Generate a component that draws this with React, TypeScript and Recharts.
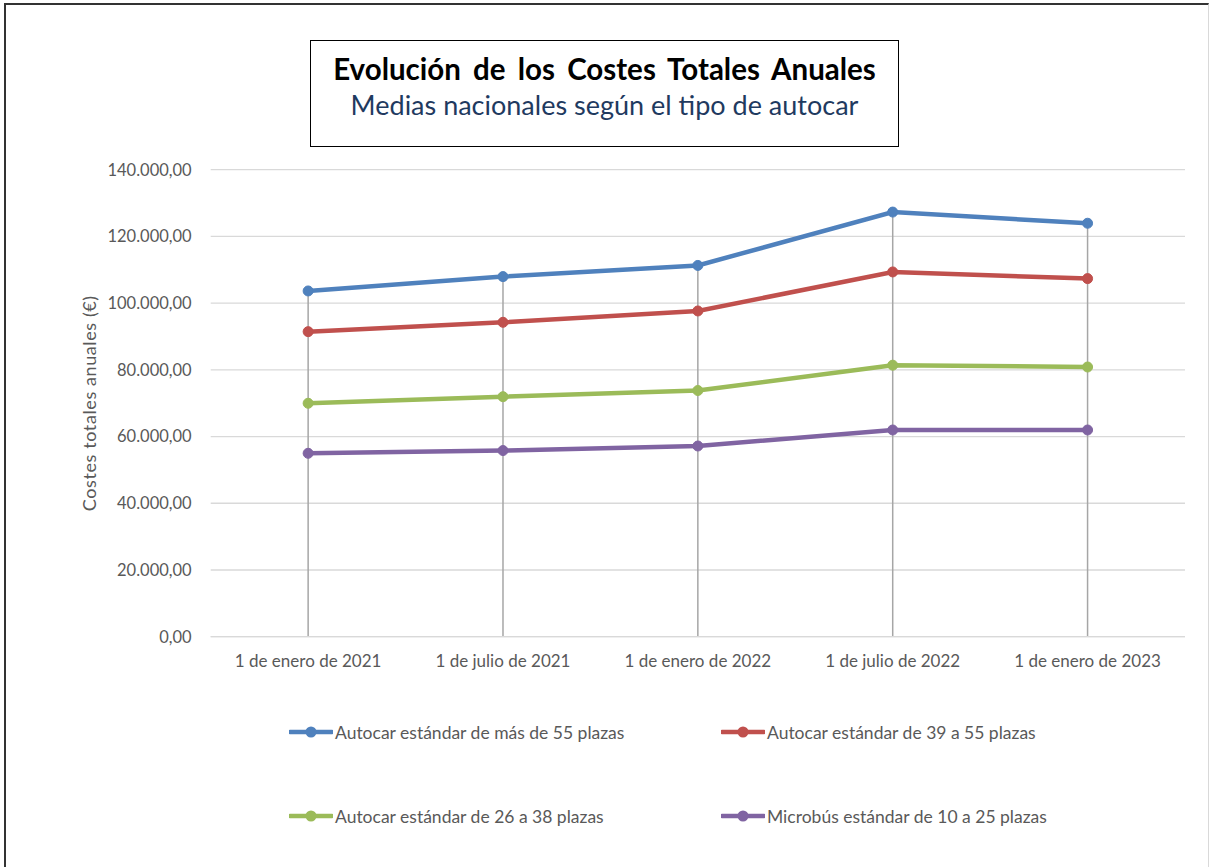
import React from "react";
import { LineChart, Line, XAxis, YAxis, CartesianGrid, ReferenceLine } from "recharts";

const categories = [
  "1 de enero de 2021",
  "1 de julio de 2021",
  "1 de enero de 2022",
  "1 de julio de 2022",
  "1 de enero de 2023",
];
const mas55 = [103650, 107950, 111300, 127300, 123950];
const de39a55 = [91450, 94250, 97650, 109350, 107350];
const de26a38 = [69980, 71950, 73800, 81400, 80850];
const micro10a25 = [54980, 55800, 57170, 61970, 61970];
const yTicks = [0, 20000, 40000, 60000, 80000, 100000, 120000, 140000];

const seriesDefs = [
  { key: "s1", name: "Autocar estándar de más de 55 plazas", color: "#4f81bd", values: mas55 },
  { key: "s2", name: "Autocar estándar de 39 a 55 plazas", color: "#c0504d", values: de39a55 },
  { key: "s3", name: "Autocar estándar de 26 a 38 plazas", color: "#9bbb59", values: de26a38 },
  { key: "s4", name: "Microbús estándar de 10 a 25 plazas", color: "#8064a2", values: micro10a25 },
];

const data = categories.map((c, i) => {
  const row: any = { cat: c };
  seriesDefs.forEach((s) => (row[s.key] = s.values[i]));
  row.max = Math.max(...seriesDefs.map((s) => s.values[i]));
  return row;
});

const fmtTick = (v: number) => {
  const s = Math.round(v).toString();
  const withDots = s.replace(/\B(?=(\d{3})+(?!\d))/g, ".");
  return withDots + ",00";
};

const FONT = "Lato, 'Open Sans', sans-serif";
const TEXT = "#595959";

function LegendItem({ name, color }: { name: string; color: string }) {
  return (
    <div style={{ display: "flex", alignItems: "center", height: 22 }}>
      <svg width={44} height={14} style={{ marginRight: 2 }}>
        <line x1={1} y1={7} x2={43} y2={7} stroke={color} strokeWidth={4.5} strokeLinecap="round" />
        <circle cx={22} cy={7} r={5.5} fill={color} />
      </svg>
      <span style={{ fontFamily: FONT, fontSize: 17.5, color: TEXT, whiteSpace: "nowrap" }}>{name}</span>
    </div>
  );
}

export default function App() {
  const plotLeft = 210.7;
  const plotTop = 169.7;
  const plotRight = 1185;
  const plotBottom = 636.7;
  const yAxisW = 120;
  const xAxisH = 30;
  const halfBand = (plotRight - plotLeft) / categories.length / 2;
  return (
    <div style={{ position: "absolute", left: 0, top: 0, width: 1211, height: 867, background: "#fff", overflow: "hidden" }}>
      <div
        style={{
          position: "absolute",
          left: 4,
          top: 3,
          width: 1205,
          height: 880,
          borderLeft: "2px solid #333",
          borderTop: "2px solid #333",
          borderRight: "1px solid #d9d9d9",
          boxSizing: "border-box",
        }}
      />
      <LineChart
        width={1211}
        height={867}
        data={data}
        margin={{
          top: plotTop,
          right: 1211 - plotRight,
          left: plotLeft - yAxisW,
          bottom: 867 - plotBottom - xAxisH,
        }}
      >
        <CartesianGrid vertical={false} stroke="#d9d9d9" strokeWidth={1.3} />
        <XAxis
          dataKey="cat"
          height={xAxisH}
          padding={{ left: halfBand, right: halfBand }}
          axisLine={{ stroke: "#d9d9d9", strokeWidth: 1.3 }}
          tickLine={false}
          tickMargin={12}
          interval={0}
          tick={{ fontFamily: FONT, fontSize: 17, fill: TEXT }}
        />
        <YAxis
          width={yAxisW}
          domain={[0, 140000]}
          ticks={yTicks}
          axisLine={false}
          tickLine={false}
          tickMargin={13}
          tickFormatter={fmtTick}
          tick={{ fontFamily: FONT, fontSize: 16.5, fill: TEXT }}
          label={{
            value: "Costes totales anuales (€)",
            angle: -90,
            position: "center",
            dx: -61,
            style: { fontFamily: FONT, fontSize: 18, letterSpacing: 0.6, fill: TEXT, textAnchor: "middle" },
          }}
        />
        {data.map((d) => (
          <ReferenceLine
            key={d.cat}
            segment={[
              { x: d.cat, y: 0 },
              { x: d.cat, y: d.max },
            ]}
            stroke="#a6a6a6"
            strokeWidth={1.5}
          />
        ))}
        {seriesDefs.map((s) => (
          <Line
            key={s.key}
            dataKey={s.key}
            name={s.name}
            stroke={s.color}
            strokeWidth={4.5}
            dot={{ r: 5, fill: s.color, stroke: s.color, strokeWidth: 1 }}
            isAnimationActive={false}
          />
        ))}
      </LineChart>
      <div
        style={{
          position: "absolute",
          left: 310,
          top: 40,
          width: 589,
          height: 107,
          border: "1.5px solid #000",
          boxSizing: "border-box",
          textAlign: "center",
          background: "#fff",
        }}
      >
        <div style={{ fontFamily: FONT, fontWeight: 700, fontSize: 29.5, wordSpacing: 5, color: "#000", marginTop: 10, lineHeight: "36px", whiteSpace: "nowrap" }}>
          Evolución de los Costes Totales Anuales
        </div>
        <div style={{ fontFamily: FONT, fontSize: 27, color: "#1f3a5f", marginTop: 1, lineHeight: "34px", whiteSpace: "nowrap" }}>
          Medias nacionales según el tipo de autocar
        </div>
      </div>
      {seriesDefs.map((s, i) => {
        const col = i % 2;
        const row = Math.floor(i / 2);
        return (
          <div
            key={s.key}
            style={{ position: "absolute", left: col === 0 ? 289 : 721, top: 721 + row * 84 }}
          >
            <LegendItem name={s.name} color={s.color} />
          </div>
        );
      })}
    </div>
  );
}
